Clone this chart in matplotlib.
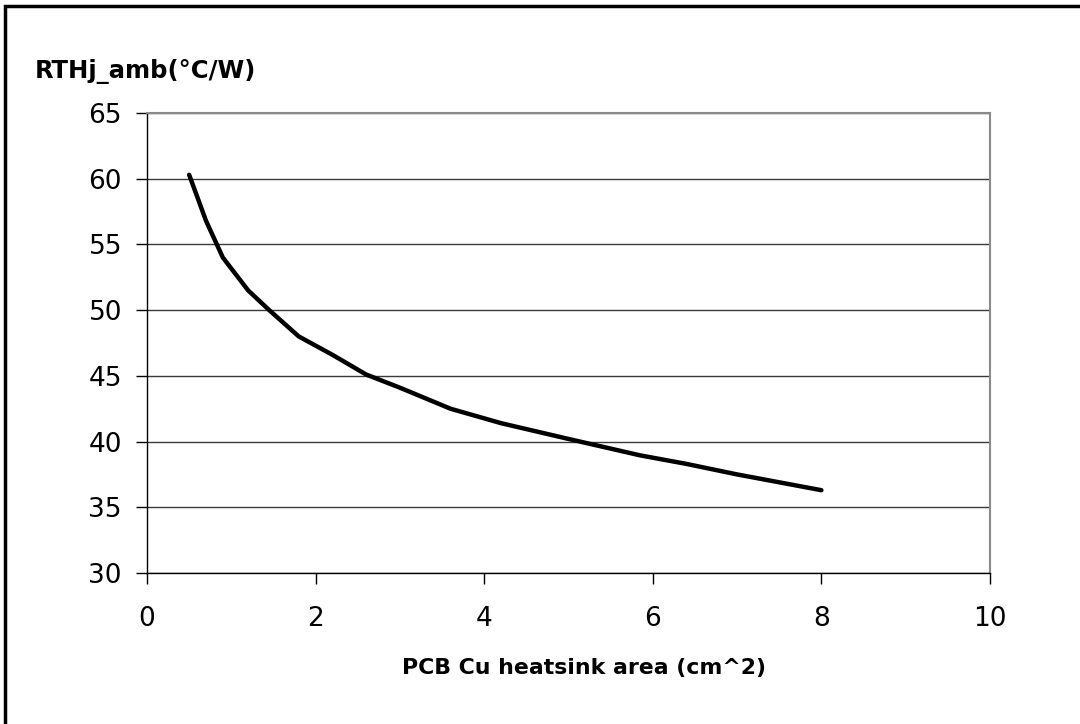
import matplotlib
matplotlib.use("Agg")
import matplotlib.pyplot as plt
from matplotlib.patches import Rectangle

# curve values
area = [0.5, 0.7, 0.9, 1.2, 1.45, 1.8, 2.2, 2.6, 3.0, 3.6, 4.2, 5.0, 5.85, 6.4, 7.0, 8.0]
rth = [60.3, 56.8, 54.0, 51.5, 50.0, 48.0, 46.6, 45.1, 44.1, 42.5, 41.4, 40.2, 38.95, 38.3, 37.5, 36.3]

x_ticks = [0, 2, 4, 6, 8, 10]
y_ticks = [30, 35, 40, 45, 50, 55, 60, 65]

plt.rcParams['font.family'] = ['DejaVu Sans']

fig = plt.figure(figsize=(10.8, 7.24), dpi=100)
ax = fig.add_axes([147 / 1080, 1 - 573 / 724, (990 - 147) / 1080, (573 - 113) / 724])

ax.plot(area, rth, color='black', lw=3.2, solid_capstyle='round', zorder=3)

ax.set_xlim(0, 10)
ax.set_ylim(30, 65)
ax.set_xticks(x_ticks)
ax.set_yticks(y_ticks)
ax.tick_params(axis='both', direction='out', length=8, width=1, colors='black',
               labelsize=19, pad=10)
ax.tick_params(axis='x', pad=16)
ax.yaxis.grid(True, color='#3a3a3a', lw=1)
ax.set_axisbelow(True)

for side in ['left', 'bottom']:
    ax.spines[side].set_color('black')
    ax.spines[side].set_linewidth(1)
for side in ['right', 'top']:
    ax.spines[side].set_color('#8a8a8a')
    ax.spines[side].set_linewidth(1.5)

fig.text(35 / 1080, 1 - 71 / 724, 'RTHj_amb(°C/W)', fontsize=17.5, fontweight='bold',
         ha='left', va='center')
fig.text(584 / 1080, 1 - 668 / 724, 'PCB Cu heatsink area (cm^2)', fontsize=15.8,
         fontweight='bold', ha='center', va='center')

# outer frame (cut off at right and bottom)
fig.patches.append(Rectangle((5 / 1080, -0.2), 1.5, 1.2 - 6 / 724, transform=fig.transFigure,
                             fill=False, edgecolor='black', lw=2.5))

fig.savefig('out.png', dpi=100)
